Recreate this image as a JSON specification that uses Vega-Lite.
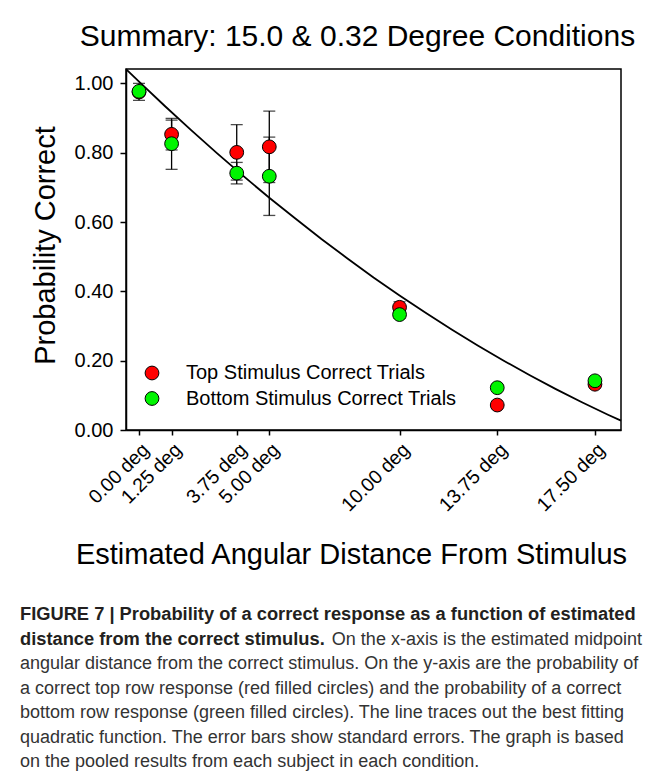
{
  "$schema": "https://vega.github.io/schema/vega-lite/v6.json",
  "background": "white",
  "padding": {"left": 20, "top": 20, "right": 0, "bottom": 0},
  "spacing": 34,
  "config": {
    "font": "Liberation Sans",
    "view": {"stroke": null},
    "axis": {
      "grid": false,
      "domainColor": "black",
      "domainWidth": 1.5,
      "tickColor": "black",
      "tickWidth": 1.5,
      "labelColor": "black",
      "titleColor": "black",
      "labelFont": "Liberation Sans",
      "titleFont": "Liberation Sans",
      "titleFontWeight": "normal"
    }
  },
  "datasets": {
    "curve": [
      {"deg": -0.5, "p": 1.041},
      {"deg": 0, "p": 1.005},
      {"deg": 1, "p": 0.934},
      {"deg": 2, "p": 0.865},
      {"deg": 3, "p": 0.798},
      {"deg": 4, "p": 0.733},
      {"deg": 5, "p": 0.670},
      {"deg": 6, "p": 0.610},
      {"deg": 7, "p": 0.551},
      {"deg": 8, "p": 0.495},
      {"deg": 9, "p": 0.440},
      {"deg": 10, "p": 0.388},
      {"deg": 11, "p": 0.338},
      {"deg": 12, "p": 0.290},
      {"deg": 13, "p": 0.244},
      {"deg": 14, "p": 0.200},
      {"deg": 15, "p": 0.158},
      {"deg": 16, "p": 0.118},
      {"deg": 17, "p": 0.080},
      {"deg": 18, "p": 0.044},
      {"deg": 18.5, "p": 0.027}
    ],
    "points": [
      {"series": "Top Stimulus Correct Trials", "deg": 0, "p": 0.975, "lo": null, "hi": null},
      {"series": "Top Stimulus Correct Trials", "deg": 1.25, "p": 0.853, "lo": 0.808, "hi": 0.899},
      {"series": "Top Stimulus Correct Trials", "deg": 3.75, "p": 0.801, "lo": 0.721, "hi": 0.881},
      {"series": "Top Stimulus Correct Trials", "deg": 5, "p": 0.817, "lo": 0.714, "hi": 0.920},
      {"series": "Top Stimulus Correct Trials", "deg": 10, "p": 0.354, "lo": 0.338, "hi": 0.370},
      {"series": "Top Stimulus Correct Trials", "deg": 13.75, "p": 0.072, "lo": null, "hi": null},
      {"series": "Top Stimulus Correct Trials", "deg": 17.5, "p": 0.132, "lo": null, "hi": null},
      {"series": "Bottom Stimulus Correct Trials", "deg": 0, "p": 0.977, "lo": 0.951, "hi": 1.0},
      {"series": "Bottom Stimulus Correct Trials", "deg": 1.25, "p": 0.826, "lo": 0.752, "hi": 0.894},
      {"series": "Bottom Stimulus Correct Trials", "deg": 3.75, "p": 0.741, "lo": 0.710, "hi": 0.772},
      {"series": "Bottom Stimulus Correct Trials", "deg": 5, "p": 0.732, "lo": 0.619, "hi": 0.845},
      {"series": "Bottom Stimulus Correct Trials", "deg": 10, "p": 0.333, "lo": 0.322, "hi": 0.344},
      {"series": "Bottom Stimulus Correct Trials", "deg": 13.75, "p": 0.122, "lo": null, "hi": null},
      {"series": "Bottom Stimulus Correct Trials", "deg": 17.5, "p": 0.142, "lo": null, "hi": null}
    ],
    "caption": [
      {"line": 1, "w": "b", "txt": "FIGURE 7 | Probability of a correct response as a function of estimated"},
      {"line": 2, "w": "b", "txt": "distance from the correct stimulus."},
      {"line": 2, "w": "n", "txt": "On the x-axis is the estimated midpoint"},
      {"line": 3, "w": "n", "txt": "angular distance from the correct stimulus. On the y-axis are the probability of"},
      {"line": 4, "w": "n", "txt": "a correct top row response (red filled circles) and the probability of a correct"},
      {"line": 5, "w": "n", "txt": "bottom row response (green filled circles). The line traces out the best fitting"},
      {"line": 6, "w": "n", "txt": "quadratic function. The error bars show standard errors. The graph is based"},
      {"line": 7, "w": "n", "txt": "on the pooled results from each subject in each condition."}
    ]
  },
  "vconcat": [
    {
      "width": 495,
      "height": 361,
      "title": {
        "text": "Summary: 15.0 & 0.32 Degree Conditions",
        "fontSize": 30,
        "fontWeight": "normal",
        "font": "Liberation Sans",
        "color": "black",
        "frame": "group",
        "anchor": "middle",
        "dx": -16,
        "offset": 14
      },
      "view": {"stroke": "black", "strokeWidth": 1.5},
      "layer": [
        {
          "data": {"name": "curve"},
          "mark": {"type": "line", "color": "black", "strokeWidth": 1.8},
          "encoding": {
            "x": {
              "field": "deg", "type": "quantitative",
              "scale": {"domain": [-0.5, 18.5], "nice": false, "zero": false},
              "axis": {
                "title": "Estimated Angular Distance From Stimulus",
                "titleFontSize": 29,
                "titleX": 225,
                "titlePadding": 26,
                "values": [0, 1.25, 3.75, 5, 10, 13.75, 17.5],
                "labelExpr": "format(datum.value, '.2f') + ' deg'",
                "labelAngle": -45,
                "labelFontSize": 19.5,
                "labelOverlap": false,
                "labelBound": false,
                "labelFlush": false,
                "tickSize": 5,
                "labelPadding": 5
              }
            },
            "y": {
              "field": "p", "type": "quantitative",
              "scale": {"domain": [0, 1.0415], "nice": false},
              "axis": {
                "title": "Probability Correct",
                "titleFontSize": 29,
                "titlePadding": 14,
                "titleY": 176,
                "values": [0, 0.2, 0.4, 0.6, 0.8, 1.0],
                "format": ".2f",
                "labelFontSize": 20,
                "tickSize": 6,
                "labelPadding": 7
              }
            }
          }
        },
        {
          "data": {"name": "points"},
          "transform": [{"filter": "datum.lo != null"}],
          "mark": {"type": "rule", "color": "black", "strokeWidth": 1.3},
          "encoding": {
            "x": {"field": "deg", "type": "quantitative", "title": "Estimated Angular Distance From Stimulus"},
            "y": {"field": "lo", "type": "quantitative", "title": "Probability Correct"},
            "y2": {"field": "hi"}
          }
        },
        {
          "data": {"name": "points"},
          "transform": [{"filter": "datum.lo != null"}],
          "mark": {"type": "tick", "orient": "horizontal", "size": 12, "thickness": 1.3, "color": "black"},
          "encoding": {
            "x": {"field": "deg", "type": "quantitative", "title": "Estimated Angular Distance From Stimulus"},
            "y": {"field": "lo", "type": "quantitative", "title": "Probability Correct"}
          }
        },
        {
          "data": {"name": "points"},
          "transform": [{"filter": "datum.hi != null"}],
          "mark": {"type": "tick", "orient": "horizontal", "size": 12, "thickness": 1.3, "color": "black"},
          "encoding": {
            "x": {"field": "deg", "type": "quantitative", "title": "Estimated Angular Distance From Stimulus"},
            "y": {"field": "hi", "type": "quantitative", "title": "Probability Correct"}
          }
        },
        {
          "data": {"name": "points"},
          "mark": {"type": "point", "shape": "circle", "filled": true, "size": 190, "stroke": "black", "strokeWidth": 1, "opacity": 1},
          "encoding": {
            "x": {"field": "deg", "type": "quantitative", "title": "Estimated Angular Distance From Stimulus"},
            "y": {"field": "p", "type": "quantitative", "title": "Probability Correct"},
            "color": {
              "field": "series", "type": "nominal",
              "scale": {
                "domain": ["Top Stimulus Correct Trials", "Bottom Stimulus Correct Trials"],
                "range": ["#ff0000", "#00f500"]
              },
              "legend": {
                "title": null,
                "orient": "none",
                "legendX": 16,
                "legendY": 294,
                "padding": 0,
                "symbolType": "circle",
                "symbolSize": 190,
                "symbolStrokeColor": "black",
                "symbolStrokeWidth": 1,
                "symbolOpacity": 1,
                "labelFontSize": 20,
                "labelFont": "Liberation Sans",
                "labelColor": "black",
                "labelOffset": 24,
                "rowPadding": 5.5,
                "labelLimit": 400
              }
            }
          }
        }
      ]
    },
    {
      "width": 600,
      "height": 147,
      "data": {"name": "caption"},
      "encoding": {
        "y": {"field": "line", "type": "ordinal", "scale": {"type": "point", "padding": 0}, "axis": null},
        "text": {"field": "txt"}
      },
      "layer": [
        {
          "transform": [{"filter": "datum.w == 'b'"}],
          "mark": {"type": "text", "align": "left", "baseline": "middle", "fontWeight": "bold", "fontSize": 18.3, "font": "Liberation Sans", "color": "#231f20"},
          "encoding": {"x": {"value": -106}}
        },
        {
          "transform": [{"filter": "datum.w == 'n' && datum.line != 2"}],
          "mark": {"type": "text", "align": "left", "baseline": "middle", "fontSize": 18, "font": "Liberation Sans", "color": "#333333"},
          "encoding": {"x": {"value": -106}}
        },
        {
          "transform": [{"filter": "datum.w == 'n' && datum.line == 2"}],
          "mark": {"type": "text", "align": "right", "baseline": "middle", "fontSize": 18, "font": "Liberation Sans", "color": "#333333"},
          "encoding": {"x": {"value": 516}}
        }
      ]
    }
  ]
}
